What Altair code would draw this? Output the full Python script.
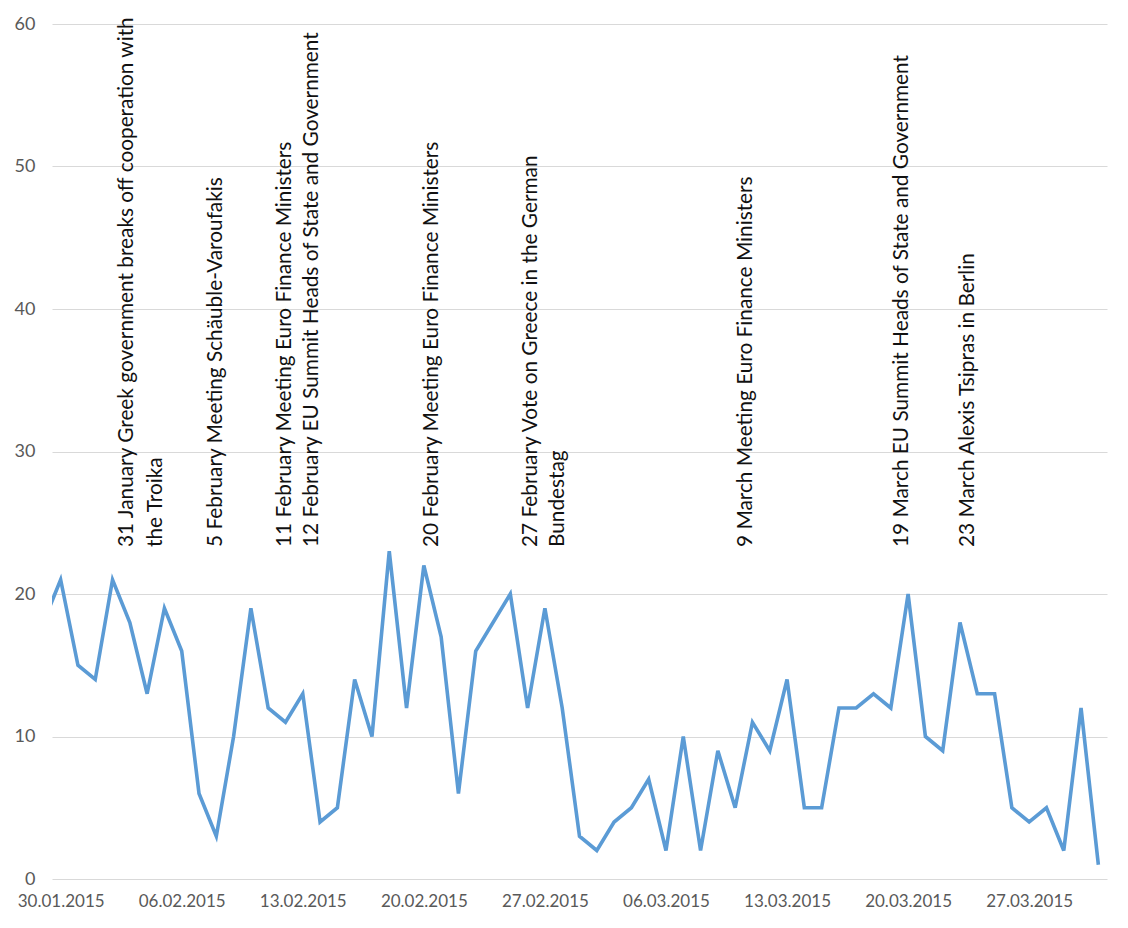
import altair as alt
import pandas as pd

# ---- data -------------------------------------------------------------
start_date = "2015-01-29"
values = [18, 21, 15, 14, 21, 18, 13, 19, 16, 6,
          3, 10, 19, 12, 11, 13, 4, 5, 14, 10,
          23, 12, 22, 17, 6, 16, 18, 20, 12, 19,
          12, 3, 2, 4, 5, 7, 2, 10, 2, 9,
          5, 11, 9, 14, 5, 5, 12, 12, 13, 12,
          20, 10, 9, 18, 13, 13, 5, 4, 5, 2,
          12, 1]

tick_dates = ["2015-01-30", "2015-02-06", "2015-02-13", "2015-02-20", "2015-02-27",
              "2015-03-06", "2015-03-13", "2015-03-20", "2015-03-27"]
y_ticks = [0, 10, 20, 30, 40, 50, 60]

annotation_times = ["2015-02-02T20:00:00", "2015-02-04T12:30:00", "2015-02-07T23:45:00",
                    "2015-02-11T23:15:00", "2015-02-13T13:00:00", "2015-02-20T11:15:00",
                    "2015-02-26T04:50:00", "2015-02-27T18:15:00", "2015-03-10T15:00:00",
                    "2015-03-19T15:30:00", "2015-03-23T11:15:00"]
annotation_texts = ["31 January Greek government breaks off cooperation with",
                    "the Troika",
                    "5 February Meeting Schäuble-Varoufakis",
                    "11 February Meeting Euro Finance Ministers",
                    "12 February EU Summit Heads of State and Government",
                    "20 February Meeting Euro Finance Ministers",
                    "27 February Vote on Greece in the German",
                    "Bundestag",
                    "9 March Meeting Euro Finance Ministers",
                    "19 March EU Summit Heads of State and Government",
                    "23 March Alexis Tsipras in Berlin"]
annotation_base = 23.3

# ---- tables -----------------------------------------------------------
dates = [d.strftime("%Y-%m-%dT00:00:00")
         for d in pd.date_range(start_date, periods=len(values), freq="D")]
df = pd.DataFrame({"date": dates, "value": values})
ann = pd.DataFrame({"date": annotation_times, "text": annotation_texts})


def dt(s, hours=0):
    y, m, d = map(int, s.split("-"))
    return alt.DateTime(year=y, month=m, date=d, hours=hours)


x_scale = alt.Scale(domain=[dt("2015-01-29", 12), dt("2015-03-31", 12)])
y_scale = alt.Scale(domain=[0, 60])

FONT = "Lato"
GRAY = "#595959"

x_axis = alt.Axis(values=[dt(s) for s in tick_dates], format="%d.%m.%Y", title=None,
                  grid=False, domain=False, ticks=False, tickSize=0, labelPadding=14,
                  labelFontSize=17, labelColor=GRAY, labelFont=FONT,
                  labelFlush=False, labelOverlap=False)
y_axis = alt.Axis(values=y_ticks, title=None, domain=False, ticks=False, tickSize=0,
                  labelPadding=17, labelFontSize=18, labelColor=GRAY, labelFont=FONT,
                  gridColor="#d9d9d9", gridWidth=1.2)

line = alt.Chart(df).mark_line(color="#5b9bd5", strokeWidth=3.6, clip=True).encode(
    x=alt.X("date:T", scale=x_scale, axis=x_axis),
    y=alt.Y("value:Q", scale=y_scale, axis=y_axis),
)

labels = alt.Chart(ann).mark_text(angle=270, align="left", baseline="middle",
                                  font=FONT, fontSize=20.8, color="#111111").encode(
    x=alt.X("date:T", scale=x_scale),
    y=alt.datum(annotation_base),
    text="text:N",
)

chart = alt.layer(line, labels).properties(
    width=1055, height=855,
    autosize="none",
    padding={"left": 52, "top": 24, "right": 21, "bottom": 49},
).configure_view(stroke=None)

chart.save("out.html", embed_options={"renderer": "svg", "actions": False})
